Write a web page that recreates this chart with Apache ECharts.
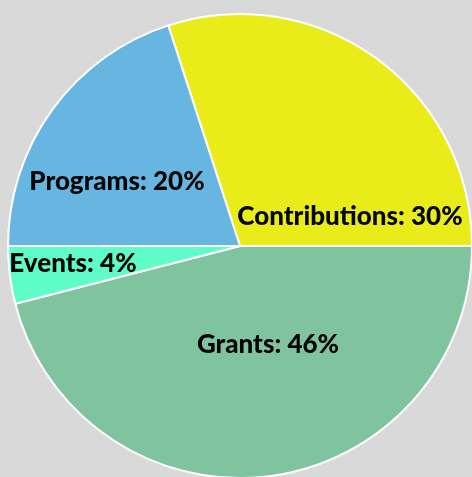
<!DOCTYPE html>
<html>
<head>
<meta charset="utf-8">
<script src="https://cdn.jsdelivr.net/npm/echarts@6/dist/echarts.min.js"></script>
<style>
html,body{margin:0;padding:0;background:#d9d9d9;}
#chart{width:472px;height:477px;}
</style>
</head>
<body>
<div id="chart"></div>
<script>
const categories = ['Contributions', 'Grants', 'Events', 'Programs'];
const values = [30, 46, 4, 20];
const colors = ['#e9ec18', '#7fc49f', '#5ffcc8', '#67b6e1'];

const labelSpots = [[350, 217], [268, 345], [73, 264], [117, 182]];

const chart = echarts.init(document.getElementById('chart'));
chart.setOption({
  backgroundColor: '#d9d9d9',
  animation: false,
  series: [{
    type: 'pie',
    center: [240, 246],
    radius: 232,
    startAngle: 108,
    clockwise: true,
    data: categories.map((c, i) => ({name: c, value: values[i], itemStyle: {color: colors[i]}})),
    itemStyle: {borderColor: '#ffffff', borderWidth: 2},
    label: {
      show: true,
      position: 'inside',
      formatter: '{b}: {d}%',
      color: '#050505',
      fontFamily: 'Lato',
      fontWeight: 900,
      fontSize: 26
    },
    labelLine: {show: false},
    labelLayout: function (p) {
      const s = labelSpots[p.dataIndex];
      return {x: s[0], y: s[1], align: 'center', verticalAlign: 'middle'};
    }
  }]
});
</script>
</body>
</html>
